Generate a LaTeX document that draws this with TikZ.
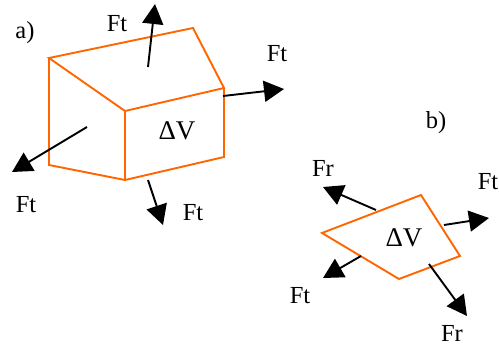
\documentclass[tikz,border=0pt]{standalone}
\usepackage{fontspec}
\setmainfont{Liberation Serif}
\usetikzlibrary{arrows.meta}
\tikzset{
  edgeline/.style={draw={rgb,255:red,255;green,102;blue,0},line width=1.9pt,line join=miter},
  force/.style={draw=black,line width=1.9pt,-{Triangle[length=20pt,width=21pt]},shorten >=0pt},
  lbl/.style={font=\fontsize{24.5}{27}\selectfont,inner sep=0pt,text=black,anchor=center},
  vol/.style={font=\fontsize{27}{30}\selectfont,inner sep=0pt,text=black,anchor=center}
}
\begin{document}
\begin{tikzpicture}[x=1pt,y=-1pt]
\useasboundingbox (0,0) rectangle (499,346);
% part a: corners
\coordinate (a1) at (49,58);
\coordinate (a2) at (193,28);
\coordinate (a3) at (224,88);
\coordinate (a4) at (125,111);
\coordinate (a5) at (49,165);
\coordinate (a6) at (125,180);
\coordinate (a7) at (224,157);
\draw[edgeline] (a1) -- (a2) -- (a3) -- (a4) -- cycle;
\draw[edgeline] (a1) -- (a5) -- (a6) -- (a7) -- (a3);
\draw[edgeline] (a4) -- (a6);
% part a: forces
\coordinate (f1s) at (148,67);  \coordinate (f1e) at (155,4);
\coordinate (f2s) at (223,96);  \coordinate (f2e) at (284,89);
\coordinate (f3s) at (87,127);  \coordinate (f3e) at (12,172);
\coordinate (f4s) at (148,180); \coordinate (f4e) at (163,225);
\draw[force] (f1s) -- (f1e);
\draw[force] (f2s) -- (f2e);
\draw[force] (f3s) -- (f3e);
\draw[force] (f4s) -- (f4e);
\node[lbl] (la) at (25,33) {a)};
\node[lbl] (t1) at (117,24) {Ft};
\node[lbl] (t2) at (277,54) {Ft};
\node[lbl] (t3) at (26,205) {Ft};
\node[lbl] (t4) at (193,213) {Ft};
\node[vol] (dv1) at (177,131) {ΔV};
% part b: corners
\coordinate (b1) at (322,233);
\coordinate (b2) at (421,195);
\coordinate (b3) at (460,256);
\coordinate (b4) at (399,279);
\draw[edgeline] (b1) -- (b2) -- (b3) -- (b4) -- cycle;
% part b: forces
\coordinate (g1s) at (376,210); \coordinate (g1e) at (323,187);
\coordinate (g2s) at (444,225); \coordinate (g2e) at (489,218);
\coordinate (g3s) at (361,256); \coordinate (g3e) at (323,278);
\coordinate (g4s) at (429,264); \coordinate (g4e) at (467,316);
\draw[force] (g1s) -- (g1e);
\draw[force] (g2s) -- (g2e);
\draw[force] (g3s) -- (g3e);
\draw[force] (g4s) -- (g4e);
\node[lbl] (lb) at (436,123) {b)};
\node[lbl] (r1) at (323,168) {Fr};
\node[lbl] (r2) at (488,182) {Ft};
\node[lbl] (r3) at (300,296) {Ft};
\node[lbl] (r4) at (452,333) {Fr};
\node[vol] (dv2) at (404,238) {ΔV};
\end{tikzpicture}
\end{document}
